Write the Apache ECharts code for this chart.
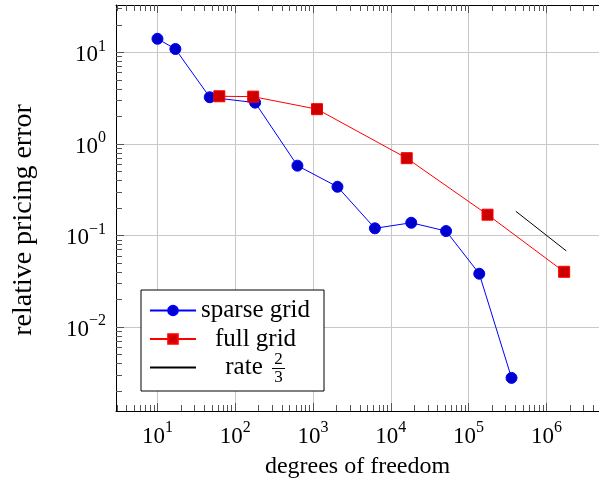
<!DOCTYPE html>
<html>
<head>
<meta charset="utf-8">
<script src="https://cdn.jsdelivr.net/npm/echarts@6/dist/echarts.min.js"></script>
<style>html,body{margin:0;padding:0;background:#fff;}#c{width:599px;height:484px;}</style>
</head>
<body>
<div id="c"></div>
<script>
// ---- data ----
const sparseDof = [10, 17, 47, 180, 630, 2060, 6240, 18300, 51300, 137000, 356000];
const sparseErr = [14.1, 10.9, 3.24, 2.83, 0.58, 0.341, 0.12, 0.138, 0.112, 0.0383, 0.00279];
const fullDof = [62.4, 170, 1125, 16000, 175000, 1690000];
const fullErr = [3.32, 3.29, 2.40, 0.70, 0.169, 0.0402];
const rateDof = [405000, 1800000];
const rateErr = [0.184, 0.068];
const xMajorTicks = [10, 100, 1000, 10000, 100000, 1000000];
const yMajorTicks = [0.01, 0.1, 1, 10];
const seriesNames = ['sparse grid', 'full grid', 'rate'];
const xTitle = 'degrees of freedom';
const yTitle = 'relative pricing error';

// ---- axis ranges ----
const xMin = Math.pow(10, 0.467), xMax = Math.pow(10, 6.676);
const yMin = Math.pow(10, -2.916), yMax = Math.pow(10, 1.518);

function minorTicks(lo, hi) {
  const out = [];
  for (let e = Math.floor(Math.log10(lo)); e <= Math.ceil(Math.log10(hi)); e++) {
    for (let m = 2; m <= 9; m++) {
      const v = m * Math.pow(10, e);
      if (v > lo && v < hi) out.push(v);
    }
  }
  return out;
}
const xMinor = minorTicks(xMin, xMax);
const yMinor = minorTicks(yMin, yMax);

const FONT = 'Liberation Serif';
const supRich = {
  b: { fontFamily: FONT, fontSize: 23, color: '#000', lineHeight: 28, verticalAlign: 'bottom' },
  s: { fontFamily: FONT, fontSize: 16, color: '#000', lineHeight: 14, verticalAlign: 'top' }
};
function powLabel(v) {
  const e = Math.round(Math.log10(v));
  return '{b|10}{s|' + String(e).replace('-', '\u2212') + '}';
}
const tickColor = '#555';
const gridColor = '#c8c8c8';

function logAxis(extra) {
  return Object.assign({
    type: 'log', logBase: 10, gridIndex: 0,
    axisLine: { show: false },
    axisLabel: { show: false },
    splitLine: { show: false },
    axisTick: { show: false }
  }, extra);
}

const option = {
  animation: false,
  backgroundColor: '#fff',
  grid: { left: 116, top: 5, right: -1, bottom: 71, containLabel: false },
  xAxis: [
    logAxis({
      position: 'bottom', min: xMin, max: xMax,
      axisLine: { show: true, lineStyle: { color: '#000', width: 1 } },
      axisTick: { show: true, inside: true, length: 8, customValues: xMajorTicks, lineStyle: { color: tickColor, width: 1 } },
      axisLabel: { show: true, customValues: xMajorTicks, margin: 9, formatter: powLabel, rich: supRich },
      splitLine: { show: true, lineStyle: { color: gridColor, width: 1 } },
      name: xTitle, nameLocation: 'middle', nameGap: 44,
      nameTextStyle: { fontFamily: FONT, fontSize: 24, color: '#000' }
    }),
    logAxis({
      position: 'bottom', min: xMin, max: xMax,
      axisTick: { show: true, inside: true, length: 6, customValues: xMinor, lineStyle: { color: tickColor, width: 1 } }
    }),
    logAxis({
      position: 'top', min: xMin, max: xMax,
      axisLine: { show: true, lineStyle: { color: '#000', width: 1 } },
      axisTick: { show: true, inside: true, length: 8, customValues: xMajorTicks, lineStyle: { color: tickColor, width: 1 } }
    }),
    logAxis({
      position: 'top', min: xMin, max: xMax,
      axisTick: { show: true, inside: true, length: 6, customValues: xMinor, lineStyle: { color: tickColor, width: 1 } }
    })
  ],
  yAxis: [
    logAxis({
      position: 'left', min: yMin, max: yMax,
      axisLine: { show: true, lineStyle: { color: '#000', width: 1 } },
      axisTick: { show: true, inside: true, length: 8, customValues: yMajorTicks, lineStyle: { color: tickColor, width: 1 } },
      axisLabel: { show: true, customValues: yMajorTicks, margin: 10, formatter: powLabel, rich: supRich },
      splitLine: { show: true, lineStyle: { color: gridColor, width: 1 } },
      name: yTitle, nameLocation: 'middle', nameGap: 78, nameRotate: 90,
      nameTextStyle: { fontFamily: FONT, fontSize: 28, color: '#000', padding: [0, 24, 0, 0] }
    }),
    logAxis({
      position: 'left', min: yMin, max: yMax,
      axisTick: { show: true, inside: true, length: 6, customValues: yMinor, lineStyle: { color: tickColor, width: 1 } }
    })
  ],
  legend: {
    orient: 'vertical', left: 141, top: 290,
    padding: [8, 14, 11, 8],
    itemWidth: 46, itemHeight: 12, itemGap: 3.5,
    borderColor: '#000', borderWidth: 1, borderRadius: 0, backgroundColor: '#fff',
    data: [
      { name: seriesNames[0] },
      { name: seriesNames[1] },
      { name: seriesNames[2], itemStyle: { opacity: 0, color: 'rgba(0,0,0,0)', borderColor: 'rgba(0,0,0,0)' } }
    ],
    textStyle: {
      fontFamily: FONT, fontSize: 25, color: '#000', lineHeight: 22,
      rich: {
        c: { fontFamily: FONT, fontSize: 25, color: '#000', width: 109, align: 'center', lineHeight: 22 },
        r: { fontFamily: FONT, fontSize: 25, color: '#000', width: 86, align: 'center', lineHeight: 22 },
        f: { fontFamily: FONT, fontSize: 25, width: 23, lineHeight: 22 }
      }
    },
    formatter: function (name) {
      if (name === 'rate') return '{r|rate}{f| }';
      return '{c|' + name + '}';
    }
  },
  graphic: {
    elements: [
      { type: 'text', x: 278.5, y: 360, z: 100, style: { text: '2', fontFamily: FONT, fontSize: 17, fill: '#000', textAlign: 'center', textVerticalAlign: 'middle' } },
      { type: 'line', z: 100, shape: { x1: 272, y1: 368.5, x2: 285, y2: 368.5 }, style: { stroke: '#000', lineWidth: 1 } },
      { type: 'text', x: 278.5, y: 378, z: 100, style: { text: '3', fontFamily: FONT, fontSize: 17, fill: '#000', textAlign: 'center', textVerticalAlign: 'middle' } }
    ]
  },
  series: [
    {
      name: seriesNames[0], type: 'line', xAxisIndex: 0, yAxisIndex: 0,
      data: sparseDof.map((x, i) => [x, sparseErr[i]]),
      symbol: 'circle', symbolSize: 11, showAllSymbol: true,
      itemStyle: { color: '#0000cc', borderColor: '#0000ff', borderWidth: 1 },
      lineStyle: { color: '#0000ff', width: 1 }, z: 3
    },
    {
      name: seriesNames[1], type: 'line', xAxisIndex: 0, yAxisIndex: 0,
      data: fullDof.map((x, i) => [x, fullErr[i]]),
      symbol: 'rect', symbolSize: 11, showAllSymbol: true,
      itemStyle: { color: '#cc0000', borderColor: '#ff0000', borderWidth: 1 },
      lineStyle: { color: '#ff0000', width: 1 }, z: 4
    },
    {
      name: seriesNames[2], type: 'line', xAxisIndex: 0, yAxisIndex: 0,
      data: rateDof.map((x, i) => [x, rateErr[i]]),
      symbol: 'none',
      itemStyle: { color: '#000' },
      lineStyle: { color: '#000', width: 1 }, z: 5
    }
  ]
};
const chart = echarts.init(document.getElementById('c'), null, { renderer: 'canvas' });
chart.setOption(option);
</script>
</body>
</html>
